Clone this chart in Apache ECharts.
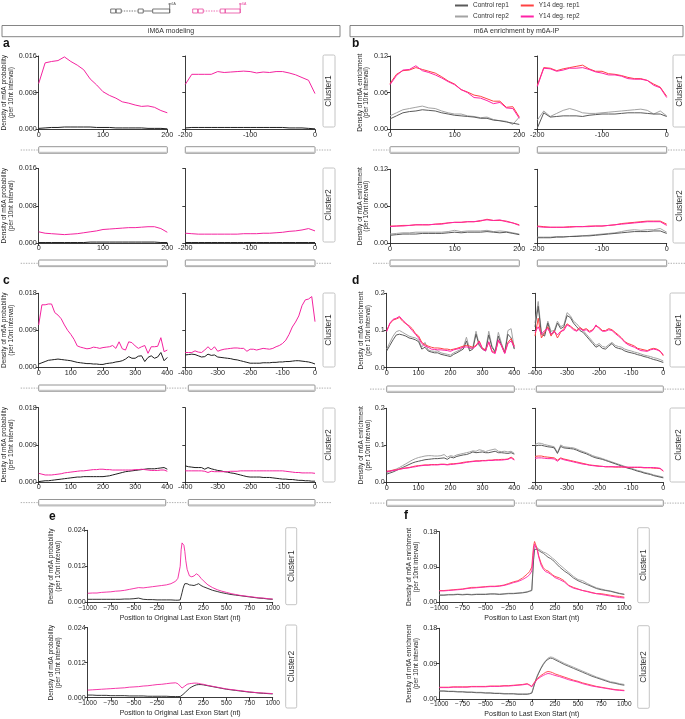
<!DOCTYPE html>
<html><head><meta charset="utf-8">
<script src="https://cdn.jsdelivr.net/npm/echarts@6/dist/echarts.min.js"></script>
<style>html,body{margin:0;padding:0;background:#fff}#main{width:685px;height:719px}</style>
</head><body><div id="main"></div>
<script>
// ---------- positions (bin starts, nt) ----------
const posL200=[0,10,20,30,40,50,60,70,80,90,100,110,120,130,140,150,160,170,180,190,200];
const posR200=[-200,-190,-180,-170,-160,-150,-140,-130,-120,-110,-100,-90,-80,-70,-60,-50,-40,-30,-20,-10,0];
const posL400=[0,10,20,30,40,50,60,70,80,90,100,110,120,130,140,150,160,170,180,190,200,210,220,230,240,250,260,270,280,290,300,310,320,330,340,350,360,370,380,390,400];
const posR400=[-400,-390,-380,-370,-360,-350,-340,-330,-320,-310,-300,-290,-280,-270,-260,-250,-240,-230,-220,-210,-200,-190,-180,-170,-160,-150,-140,-130,-120,-110,-100,-90,-80,-70,-60,-50,-40,-30,-20,-10,0];
const posE=[-1000,-950,-900,-850,-800,-750,-700,-650,-600,-550,-500,-450,-400,-350,-300,-250,-200,-150,-100,-50,-25,0,10,20,30,40,50,60,75,100,125,150,175,200,225,250,300,350,400,450,500,550,600,650,700,750,800,850,900,950,1000];

// ---------- panel a (iM6A, 200 nt) ----------
const a1L_y14=[0.0100,0.0145,0.0148,0.0150,0.0158,0.0148,0.0140,0.0130,0.0110,0.0097,0.0082,0.0074,0.0068,0.0060,0.0057,0.0053,0.0050,0.0051,0.0048,0.0041,0.0036];
const a1L_ctrl=[0.0002,0.0003,0.0004,0.0004,0.0005,0.0005,0.0005,0.0005,0.0005,0.0004,0.0004,0.0004,0.0003,0.0003,0.0003,0.0003,0.0003,0.0002,0.0002,0.0002,0.0001];
const a1R_y14=[0.0098,0.0120,0.0120,0.0120,0.0120,0.0126,0.0124,0.0125,0.0126,0.0127,0.0126,0.0123,0.0125,0.0124,0.0126,0.0126,0.0123,0.0119,0.0113,0.0107,0.0078];
const a1R_ctrl=[0.0003,0.0004,0.0004,0.0004,0.0004,0.0004,0.0004,0.0004,0.0004,0.0004,0.0004,0.0004,0.0004,0.0004,0.0004,0.0004,0.0003,0.0003,0.0003,0.0002,0.0001];
const a2L_y14=[0.0024,0.0021,0.0020,0.0019,0.0018,0.0019,0.0020,0.0022,0.0024,0.0026,0.0029,0.0030,0.0031,0.0032,0.0033,0.0033,0.0034,0.0035,0.0035,0.0031,0.0023];
const a2L_ctrl=[0.0001,0.0001,0.0001,0.0001,0.0001,0.0001,0.0001,0.0001,0.0002,0.0002,0.0002,0.0002,0.0002,0.0002,0.0002,0.0002,0.0002,0.0002,0.0002,0.0001,0.0001];
const a2R_y14=[0.0021,0.0020,0.0019,0.0019,0.0019,0.0019,0.0019,0.0019,0.0019,0.0020,0.0020,0.0020,0.0021,0.0021,0.0022,0.0023,0.0025,0.0026,0.0028,0.0031,0.0026];
const a2R_ctrl=[0.0001,0.0001,0.0001,0.0001,0.0001,0.0001,0.0001,0.0001,0.0001,0.0001,0.0001,0.0001,0.0001,0.0001,0.0001,0.0001,0.0001,0.0001,0.0001,0.0001,0.0001];

// ---------- panel b (m6A-IP, 200 nt) ----------
const b1L_y1=[0.075,0.090,0.096,0.097,0.101,0.098,0.095,0.092,0.086,0.079,0.074,0.065,0.061,0.056,0.054,0.050,0.046,0.046,0.036,0.037,0.020];
const b1L_y2=[0.073,0.088,0.097,0.098,0.104,0.096,0.093,0.089,0.084,0.078,0.073,0.065,0.060,0.052,0.051,0.047,0.042,0.044,0.035,0.034,0.018];
const b1L_c1=[0.017,0.022,0.027,0.029,0.030,0.032,0.031,0.030,0.027,0.025,0.023,0.022,0.021,0.020,0.018,0.018,0.015,0.014,0.012,0.010,0.008];
const b1L_c2=[0.022,0.027,0.032,0.034,0.036,0.038,0.035,0.034,0.030,0.027,0.025,0.025,0.022,0.021,0.019,0.020,0.016,0.014,0.013,0.008,0.020];
const b1R_y1=[0.072,0.101,0.100,0.096,0.099,0.101,0.103,0.105,0.099,0.095,0.095,0.091,0.090,0.088,0.085,0.083,0.083,0.080,0.074,0.069,0.054];
const b1R_y2=[0.070,0.100,0.099,0.095,0.097,0.100,0.100,0.101,0.098,0.094,0.092,0.089,0.089,0.087,0.083,0.082,0.082,0.080,0.072,0.068,0.052];
const b1R_c1=[0.002,0.027,0.020,0.021,0.022,0.022,0.022,0.021,0.023,0.024,0.025,0.025,0.025,0.026,0.027,0.027,0.027,0.026,0.025,0.025,0.021];
const b1R_c2=[0.015,0.030,0.021,0.026,0.031,0.034,0.031,0.027,0.026,0.026,0.027,0.028,0.029,0.030,0.031,0.032,0.033,0.031,0.025,0.030,0.022];
const b2L_y1=[0.028,0.028,0.029,0.029,0.030,0.030,0.030,0.031,0.032,0.033,0.034,0.034,0.035,0.035,0.036,0.039,0.037,0.037,0.036,0.033,0.030];
const b2L_y2=[0.027,0.028,0.028,0.029,0.030,0.030,0.030,0.031,0.031,0.033,0.034,0.034,0.035,0.035,0.037,0.038,0.037,0.038,0.035,0.033,0.029];
const b2L_c1=[0.013,0.014,0.015,0.015,0.015,0.016,0.016,0.016,0.016,0.017,0.018,0.017,0.018,0.018,0.018,0.019,0.018,0.017,0.018,0.016,0.014];
const b2L_c2=[0.015,0.016,0.017,0.017,0.018,0.018,0.018,0.018,0.018,0.019,0.021,0.019,0.020,0.020,0.020,0.021,0.019,0.020,0.019,0.017,0.015];
const b2R_y1=[0.028,0.027,0.026,0.026,0.026,0.027,0.027,0.027,0.028,0.028,0.028,0.029,0.030,0.032,0.033,0.034,0.035,0.036,0.036,0.036,0.031];
const b2R_y2=[0.027,0.026,0.026,0.026,0.026,0.026,0.027,0.027,0.027,0.028,0.028,0.029,0.030,0.031,0.032,0.033,0.034,0.035,0.035,0.035,0.029];
const b2R_c1=[0.009,0.009,0.009,0.010,0.010,0.011,0.011,0.012,0.012,0.013,0.014,0.015,0.016,0.017,0.018,0.019,0.019,0.019,0.020,0.020,0.016];
const b2R_c2=[0.010,0.010,0.010,0.011,0.011,0.011,0.012,0.012,0.013,0.014,0.015,0.016,0.017,0.019,0.021,0.022,0.021,0.022,0.022,0.024,0.018];

// ---------- panel c (iM6A, 400 nt) ----------
const c1L_y14=[0.0103,0.0152,0.0152,0.0154,0.0154,0.0133,0.0127,0.0118,0.0103,0.0090,0.0080,0.0068,0.0052,0.0049,0.0047,0.0045,0.0046,0.0049,0.0048,0.0046,0.0048,0.0049,0.0050,0.0053,0.0046,0.0062,0.0045,0.0042,0.0062,0.0060,0.0052,0.0046,0.0050,0.0053,0.0034,0.0050,0.0050,0.0051,0.0072,0.0038,0.0042];
const c1L_ctrl=[0.0008,0.0011,0.0014,0.0017,0.0018,0.0019,0.0020,0.0019,0.0018,0.0017,0.0016,0.0014,0.0012,0.0011,0.0010,0.0009,0.0009,0.0008,0.0008,0.0007,0.0007,0.0009,0.0010,0.0011,0.0013,0.0014,0.0016,0.0020,0.0026,0.0022,0.0022,0.0027,0.0028,0.0014,0.0024,0.0028,0.0022,0.0025,0.0036,0.0016,0.0024];
const c1R_y14=[0.0036,0.0036,0.0036,0.0040,0.0037,0.0036,0.0042,0.0050,0.0042,0.0050,0.0039,0.0042,0.0044,0.0045,0.0046,0.0047,0.0047,0.0046,0.0046,0.0039,0.0044,0.0044,0.0042,0.0044,0.0046,0.0045,0.0044,0.0046,0.0050,0.0053,0.0058,0.0066,0.0080,0.0098,0.0110,0.0125,0.0150,0.0164,0.0166,0.0172,0.0111];
const c1R_ctrl=[0.0030,0.0031,0.0032,0.0031,0.0028,0.0025,0.0026,0.0032,0.0029,0.0030,0.0025,0.0024,0.0023,0.0022,0.0021,0.0019,0.0018,0.0016,0.0014,0.0012,0.0010,0.0010,0.0010,0.0010,0.0011,0.0011,0.0011,0.0012,0.0012,0.0013,0.0013,0.0014,0.0014,0.0015,0.0016,0.0016,0.0015,0.0014,0.0013,0.0011,0.0008];
const c2L_y14=[0.0021,0.0019,0.0017,0.0017,0.0017,0.0018,0.0019,0.0020,0.0022,0.0023,0.0024,0.0025,0.0026,0.0027,0.0027,0.0028,0.0029,0.0030,0.0030,0.0031,0.0031,0.0030,0.0030,0.0029,0.0029,0.0029,0.0029,0.0029,0.0029,0.0029,0.0030,0.0030,0.0031,0.0030,0.0029,0.0028,0.0028,0.0028,0.0029,0.0029,0.0026];
const c2L_ctrl=[0.0001,0.0002,0.0003,0.0003,0.0004,0.0005,0.0006,0.0007,0.0008,0.0009,0.0010,0.0011,0.0012,0.0012,0.0013,0.0013,0.0013,0.0013,0.0013,0.0013,0.0013,0.0014,0.0015,0.0017,0.0019,0.0021,0.0023,0.0025,0.0026,0.0027,0.0028,0.0029,0.0030,0.0031,0.0032,0.0032,0.0032,0.0033,0.0034,0.0035,0.0031];
const c2R_y14=[0.0027,0.0027,0.0027,0.0027,0.0027,0.0027,0.0026,0.0023,0.0026,0.0025,0.0025,0.0025,0.0025,0.0025,0.0026,0.0026,0.0026,0.0027,0.0027,0.0027,0.0027,0.0027,0.0027,0.0027,0.0027,0.0027,0.0027,0.0027,0.0027,0.0027,0.0027,0.0026,0.0025,0.0024,0.0023,0.0023,0.0022,0.0022,0.0022,0.0022,0.0021];
const c2R_ctrl=[0.0039,0.0037,0.0036,0.0035,0.0035,0.0035,0.0031,0.0035,0.0032,0.0030,0.0028,0.0027,0.0025,0.0024,0.0022,0.0021,0.0019,0.0017,0.0015,0.0013,0.0012,0.0012,0.0012,0.0012,0.0011,0.0011,0.0011,0.0010,0.0009,0.0008,0.0007,0.0007,0.0006,0.0006,0.0005,0.0004,0.0004,0.0003,0.0003,0.0002,0.0002];

// ---------- panel d (m6A-IP, 400 nt) ----------
const d1L_y1=[0.100,0.118,0.128,0.131,0.135,0.125,0.118,0.113,0.105,0.092,0.085,0.068,0.062,0.058,0.055,0.053,0.053,0.052,0.050,0.050,0.048,0.050,0.052,0.055,0.058,0.060,0.058,0.055,0.060,0.072,0.052,0.048,0.068,0.045,0.040,0.072,0.060,0.040,0.068,0.078,0.058];
const d1L_y2=[0.097,0.120,0.130,0.133,0.138,0.128,0.120,0.110,0.100,0.090,0.080,0.065,0.058,0.055,0.050,0.049,0.048,0.048,0.047,0.046,0.044,0.048,0.050,0.052,0.055,0.056,0.054,0.052,0.058,0.070,0.050,0.045,0.070,0.042,0.038,0.075,0.058,0.038,0.065,0.072,0.055];
const d1L_c1=[0.045,0.060,0.075,0.088,0.090,0.088,0.085,0.080,0.078,0.075,0.070,0.050,0.055,0.045,0.042,0.040,0.040,0.036,0.034,0.032,0.030,0.036,0.040,0.045,0.050,0.072,0.045,0.050,0.090,0.060,0.050,0.045,0.088,0.055,0.042,0.085,0.060,0.040,0.090,0.080,0.050];
const d1L_c2=[0.050,0.068,0.085,0.097,0.100,0.095,0.090,0.085,0.082,0.080,0.075,0.055,0.068,0.048,0.045,0.044,0.045,0.040,0.038,0.036,0.034,0.040,0.044,0.048,0.055,0.082,0.050,0.055,0.098,0.062,0.052,0.048,0.098,0.058,0.044,0.095,0.065,0.042,0.100,0.105,0.052];
const d1R_c1=[0.110,0.165,0.090,0.085,0.120,0.090,0.095,0.120,0.105,0.110,0.140,0.135,0.120,0.110,0.100,0.095,0.085,0.075,0.065,0.055,0.060,0.052,0.050,0.058,0.065,0.055,0.052,0.050,0.045,0.042,0.040,0.038,0.035,0.033,0.030,0.028,0.025,0.022,0.020,0.017,0.014];
const d1R_c2=[0.120,0.178,0.095,0.090,0.125,0.098,0.100,0.125,0.110,0.115,0.148,0.140,0.125,0.118,0.108,0.100,0.090,0.080,0.070,0.060,0.065,0.057,0.055,0.062,0.068,0.060,0.057,0.055,0.050,0.047,0.045,0.042,0.040,0.037,0.034,0.032,0.030,0.027,0.025,0.022,0.018];
const d1R_y1=[0.085,0.133,0.080,0.095,0.110,0.085,0.100,0.080,0.095,0.105,0.118,0.112,0.105,0.100,0.108,0.102,0.105,0.098,0.102,0.112,0.108,0.100,0.100,0.105,0.102,0.095,0.088,0.080,0.070,0.065,0.062,0.058,0.052,0.050,0.048,0.046,0.050,0.052,0.050,0.045,0.032];
const d1R_y2=[0.095,0.110,0.090,0.100,0.105,0.090,0.098,0.088,0.098,0.100,0.115,0.110,0.102,0.098,0.105,0.100,0.102,0.095,0.100,0.115,0.105,0.098,0.098,0.102,0.100,0.092,0.085,0.078,0.068,0.062,0.058,0.055,0.050,0.046,0.045,0.044,0.048,0.050,0.048,0.044,0.035];
const d2L_c1=[0.022,0.025,0.028,0.032,0.036,0.040,0.044,0.048,0.052,0.055,0.057,0.059,0.061,0.062,0.063,0.064,0.064,0.065,0.066,0.062,0.068,0.066,0.070,0.072,0.074,0.075,0.078,0.082,0.080,0.081,0.082,0.080,0.080,0.082,0.084,0.080,0.080,0.079,0.078,0.080,0.076];
const d2L_c2=[0.026,0.029,0.032,0.036,0.040,0.045,0.050,0.055,0.060,0.064,0.067,0.069,0.071,0.072,0.072,0.071,0.071,0.072,0.075,0.068,0.072,0.070,0.074,0.076,0.078,0.080,0.082,0.085,0.084,0.088,0.086,0.083,0.086,0.088,0.090,0.084,0.083,0.084,0.082,0.084,0.078];
const d2L_y1=[0.030,0.031,0.033,0.034,0.036,0.037,0.039,0.040,0.042,0.044,0.045,0.046,0.047,0.047,0.048,0.048,0.048,0.049,0.049,0.048,0.050,0.050,0.051,0.052,0.054,0.055,0.056,0.057,0.058,0.058,0.059,0.059,0.060,0.060,0.061,0.061,0.062,0.062,0.063,0.068,0.062];
const d2L_y2=[0.029,0.030,0.032,0.033,0.035,0.037,0.038,0.039,0.041,0.042,0.044,0.045,0.046,0.046,0.047,0.047,0.047,0.048,0.048,0.047,0.048,0.049,0.050,0.051,0.052,0.054,0.055,0.056,0.057,0.057,0.058,0.058,0.059,0.059,0.060,0.060,0.060,0.061,0.062,0.066,0.060];
const d2R_c1=[0.098,0.100,0.100,0.098,0.096,0.095,0.093,0.078,0.097,0.093,0.092,0.091,0.090,0.087,0.083,0.080,0.077,0.073,0.069,0.066,0.064,0.062,0.059,0.056,0.053,0.050,0.047,0.044,0.041,0.038,0.036,0.033,0.030,0.028,0.025,0.023,0.021,0.018,0.016,0.014,0.012];
const d2R_c2=[0.102,0.106,0.105,0.102,0.100,0.098,0.096,0.080,0.101,0.096,0.095,0.094,0.093,0.090,0.086,0.083,0.080,0.076,0.072,0.069,0.067,0.064,0.061,0.058,0.055,0.052,0.049,0.046,0.043,0.040,0.038,0.035,0.032,0.030,0.027,0.025,0.023,0.020,0.018,0.016,0.014];
const d2R_y1=[0.070,0.071,0.071,0.069,0.068,0.067,0.066,0.060,0.066,0.063,0.061,0.059,0.057,0.055,0.053,0.051,0.049,0.047,0.046,0.045,0.044,0.043,0.042,0.042,0.042,0.041,0.041,0.041,0.041,0.040,0.040,0.040,0.040,0.040,0.039,0.039,0.039,0.038,0.038,0.037,0.030];
const d2R_y2=[0.065,0.066,0.066,0.065,0.064,0.064,0.063,0.057,0.064,0.061,0.059,0.057,0.055,0.053,0.051,0.049,0.048,0.046,0.045,0.044,0.043,0.043,0.042,0.042,0.042,0.042,0.042,0.042,0.041,0.041,0.041,0.041,0.041,0.041,0.040,0.040,0.040,0.040,0.039,0.038,0.031];

// ---------- panel e (iM6A, last exon start +-1000) ----------
const e1_y14=[0.0030,0.0031,0.0031,0.0033,0.0034,0.0035,0.0037,0.0038,0.0040,0.0043,0.0046,0.0049,0.0048,0.0050,0.0052,0.0054,0.0056,0.0058,0.0062,0.0070,0.0080,0.0120,0.0175,0.0198,0.0200,0.0190,0.0170,0.0140,0.0110,0.0088,0.0085,0.0088,0.0095,0.0090,0.0080,0.0072,0.0058,0.0049,0.0042,0.0037,0.0033,0.0029,0.0026,0.0023,0.0021,0.0019,0.0017,0.0015,0.0014,0.0012,0.0011];
const e1_ctrl=[0.0010,0.0010,0.0010,0.0010,0.0010,0.0010,0.0010,0.0010,0.0011,0.0011,0.0012,0.0014,0.0010,0.0009,0.0009,0.0008,0.0008,0.0008,0.0008,0.0007,0.0007,0.0008,0.0020,0.0032,0.0045,0.0055,0.0062,0.0064,0.0062,0.0058,0.0057,0.0056,0.0059,0.0062,0.0056,0.0052,0.0046,0.0040,0.0036,0.0032,0.0029,0.0026,0.0024,0.0022,0.0020,0.0018,0.0016,0.0014,0.0013,0.0011,0.0010];
const e2_y14=[0.0026,0.0027,0.0028,0.0029,0.0030,0.0031,0.0032,0.0033,0.0034,0.0036,0.0037,0.0038,0.0040,0.0041,0.0043,0.0045,0.0046,0.0048,0.0050,0.0051,0.0048,0.0040,0.0035,0.0033,0.0033,0.0036,0.0040,0.0043,0.0046,0.0048,0.0049,0.0050,0.0050,0.0049,0.0047,0.0046,0.0042,0.0039,0.0036,0.0033,0.0030,0.0028,0.0026,0.0024,0.0022,0.0020,0.0018,0.0017,0.0016,0.0015,0.0014];
const e2_ctrl=[0.0009,0.0009,0.0008,0.0008,0.0008,0.0007,0.0007,0.0007,0.0007,0.0006,0.0006,0.0006,0.0006,0.0005,0.0005,0.0005,0.0005,0.0005,0.0004,0.0004,0.0004,0.0004,0.0006,0.0008,0.0011,0.0014,0.0017,0.0020,0.0025,0.0032,0.0037,0.0041,0.0044,0.0045,0.0045,0.0044,0.0041,0.0038,0.0035,0.0032,0.0029,0.0027,0.0025,0.0023,0.0021,0.0019,0.0018,0.0016,0.0015,0.0014,0.0013];

// ---------- panel f (m6A-IP, last exon start +-1000) ----------
const f1_y1=[0.030,0.030,0.031,0.032,0.033,0.034,0.036,0.038,0.038,0.039,0.040,0.041,0.041,0.042,0.044,0.048,0.052,0.055,0.062,0.072,0.078,0.090,0.120,0.145,0.155,0.160,0.150,0.135,0.118,0.100,0.088,0.082,0.080,0.075,0.070,0.066,0.062,0.055,0.043,0.038,0.034,0.030,0.028,0.025,0.022,0.022,0.020,0.018,0.016,0.015,0.013];
const f1_y2=[0.029,0.029,0.030,0.031,0.032,0.033,0.035,0.036,0.037,0.038,0.039,0.040,0.040,0.041,0.043,0.046,0.050,0.053,0.058,0.065,0.070,0.080,0.105,0.135,0.148,0.152,0.145,0.132,0.115,0.095,0.084,0.078,0.076,0.072,0.068,0.063,0.058,0.052,0.042,0.036,0.033,0.030,0.027,0.024,0.022,0.020,0.018,0.016,0.014,0.012,0.011];
const f1_c1=[0.018,0.018,0.019,0.019,0.020,0.019,0.020,0.019,0.020,0.020,0.020,0.021,0.021,0.020,0.021,0.022,0.022,0.023,0.024,0.026,0.028,0.030,0.070,0.110,0.135,0.140,0.138,0.135,0.132,0.128,0.125,0.120,0.115,0.112,0.108,0.102,0.090,0.080,0.072,0.062,0.055,0.050,0.045,0.040,0.035,0.032,0.030,0.028,0.025,0.022,0.020];
const f1_c2=[0.019,0.019,0.020,0.020,0.021,0.020,0.021,0.020,0.021,0.021,0.021,0.022,0.022,0.021,0.022,0.023,0.023,0.024,0.025,0.027,0.029,0.032,0.075,0.115,0.138,0.144,0.142,0.138,0.135,0.132,0.128,0.126,0.122,0.118,0.112,0.108,0.096,0.086,0.076,0.066,0.058,0.055,0.048,0.042,0.037,0.034,0.031,0.029,0.026,0.023,0.021];
const f2_y1=[0.030,0.030,0.030,0.031,0.031,0.031,0.031,0.032,0.032,0.032,0.032,0.033,0.033,0.033,0.034,0.034,0.035,0.036,0.037,0.039,0.036,0.032,0.036,0.040,0.043,0.046,0.049,0.052,0.056,0.060,0.064,0.068,0.070,0.069,0.067,0.064,0.060,0.056,0.052,0.048,0.045,0.041,0.038,0.035,0.032,0.030,0.028,0.026,0.024,0.023,0.022];
const f2_y2=[0.029,0.029,0.029,0.030,0.030,0.030,0.030,0.031,0.031,0.031,0.031,0.032,0.032,0.032,0.033,0.033,0.034,0.035,0.036,0.038,0.035,0.031,0.034,0.038,0.041,0.044,0.047,0.050,0.053,0.057,0.060,0.063,0.065,0.064,0.062,0.060,0.057,0.053,0.049,0.046,0.043,0.039,0.036,0.033,0.031,0.029,0.027,0.025,0.023,0.022,0.021];
const f2_c1=[0.020,0.020,0.019,0.019,0.018,0.018,0.017,0.017,0.016,0.016,0.015,0.015,0.014,0.014,0.013,0.013,0.013,0.012,0.012,0.012,0.013,0.015,0.022,0.030,0.038,0.045,0.052,0.058,0.066,0.078,0.088,0.096,0.101,0.104,0.103,0.100,0.094,0.088,0.083,0.078,0.073,0.068,0.063,0.058,0.054,0.050,0.046,0.042,0.040,0.037,0.035];
const f2_c2=[0.021,0.021,0.020,0.020,0.019,0.019,0.018,0.018,0.017,0.017,0.016,0.016,0.015,0.015,0.014,0.014,0.014,0.013,0.013,0.013,0.014,0.016,0.024,0.032,0.040,0.047,0.054,0.060,0.068,0.080,0.090,0.098,0.104,0.107,0.106,0.103,0.097,0.091,0.086,0.081,0.076,0.071,0.066,0.061,0.056,0.052,0.048,0.044,0.042,0.039,0.037];

// ---------- text ----------
const NAME_P='Density of m6A probability\n(per 10nt interval)';
const NAME_E='Density of m6A enrichment\n(per 10nt interval)';
const XNAME_E='Position to Original Last Exon Start (nt)';
const XNAME_F='Position to Last Exon Start (nt)';
const LEG1=['Control rep1','Y14 deg. rep1'];
const LEG2=['Control rep2','Y14 deg. rep2'];

// ---------- styles ----------
const FONT='"Liberation Sans", Arial, sans-serif';
const CTRL='#1e1e1e', Y14='#f4239f';
const C1='#5a5a5a', C2='#a3a3a3', Y1='#ff4242', Y2='#ff22a6';
const AX='#262626';

const grids=[],xAxes=[],yAxes=[],series=[];
const fmtMinus=v=>v<0?'\u2212'+Math.abs(v):String(v);
function addGrid(g){
  const i=grids.length;
  grids.push({left:g.l,top:g.t,width:g.w,height:g.h,containLabel:false,outerBoundsMode:'none'});
  xAxes.push({type:'value',gridIndex:i,min:g.x[0],max:g.x[1],interval:g.x[2],
    axisLine:{show:true,onZero:false,lineStyle:{color:AX,width:0.9}},
    axisTick:{show:true,length:3,lineStyle:{color:AX,width:0.9}},
    splitLine:{show:false},minorTick:{show:false},
    axisLabel:{show:true,fontSize:g.xfs||7.2,color:AX,margin:2,fontFamily:FONT,formatter:g.um?fmtMinus:(v=>String(v))},
    name:g.xname||'',nameLocation:'middle',nameGap:g.xgap||13,nameMoveOverlap:false,
    nameTextStyle:{fontSize:7,color:AX,fontFamily:FONT}});
  yAxes.push({type:'value',gridIndex:i,min:0,max:g.y[0],interval:g.y[1],
    axisLine:{show:true,onZero:false,lineStyle:{color:AX,width:0.9}},
    axisTick:{show:true,length:3,lineStyle:{color:AX,width:0.9}},
    splitLine:{show:false},
    axisLabel:{show:!!g.ylab,fontSize:7.2,color:AX,margin:2,fontFamily:FONT,formatter:v=>v.toFixed(g.dec)},
    name:g.ylab?g.yname:'',nameLocation:'middle',nameGap:g.ygap||20,nameMoveOverlap:false,
    nameTextStyle:{fontSize:6.5,lineHeight:6.8,color:AX,fontFamily:FONT}});
  return i;
}
function addLine(gi,name,color,xs,ys,w){
  series.push({type:'line',name:name,xAxisIndex:gi,yAxisIndex:gi,
    data:xs.map((x,k)=>[x,ys[k]]),showSymbol:false,symbol:'none',
    lineStyle:{color:color,width:w||1},itemStyle:{color:color},
    silent:true,animation:false,clip:false});
}
function two(gi,xs,ctrl,y14,w){addLine(gi,'Control',CTRL,xs,ctrl,w);addLine(gi,'Y14 deg.',Y14,xs,y14,w);}
function four(gi,xs,c1,c2,y1,y2,w){
  addLine(gi,'Control rep2',C2,xs,c2,w);addLine(gi,'Control rep1',C1,xs,c1,w);
  addLine(gi,'Y14 deg. rep1',Y1,xs,y1,w);addLine(gi,'Y14 deg. rep2',Y2,xs,y2,w);
}

// panel a
let g;
g=addGrid({l:38.7,t:56,w:128.6,h:73.3,x:[0,200,100],y:[0.016,0.008],dec:3,ylab:1,yname:NAME_P,ygap:24});
two(g,posL200,a1L_ctrl,a1L_y14);
g=addGrid({l:185.3,t:56,w:129.7,h:73.3,x:[-200,0,100],y:[0.016,0.008],dec:3});
two(g,posR200,a1R_ctrl,a1R_y14);
g=addGrid({l:38.7,t:168.5,w:128.6,h:74.5,x:[0,200,100],y:[0.016,0.008],dec:3,ylab:1,yname:NAME_P,ygap:24});
two(g,posL200,a2L_ctrl,a2L_y14);
g=addGrid({l:185.3,t:168.5,w:129.7,h:74.5,x:[-200,0,100],y:[0.016,0.008],dec:3});
two(g,posR200,a2R_ctrl,a2R_y14);
// panel b
g=addGrid({l:390,t:56,w:129.3,h:73.3,x:[0,200,100],y:[0.12,0.06],dec:2,ylab:1,yname:NAME_E,ygap:20});
four(g,posL200,b1L_c1,b1L_c2,b1L_y1,b1L_y2);
g=addGrid({l:537.3,t:56,w:129.4,h:73.3,x:[-200,0,100],y:[0.12,0.06],dec:2});
four(g,posR200,b1R_c1,b1R_c2,b1R_y1,b1R_y2);
g=addGrid({l:390,t:169.3,w:129.3,h:74,x:[0,200,100],y:[0.12,0.06],dec:2,ylab:1,yname:NAME_E,ygap:20});
four(g,posL200,b2L_c1,b2L_c2,b2L_y1,b2L_y2);
g=addGrid({l:537.3,t:169.3,w:129.4,h:74,x:[-200,0,100],y:[0.12,0.06],dec:2});
four(g,posR200,b2R_c1,b2R_c2,b2R_y1,b2R_y2);
// panel c
g=addGrid({l:38.7,t:293.3,w:128.6,h:74,x:[0,400,100],y:[0.018,0.009],dec:3,ylab:1,yname:NAME_P,ygap:24});
two(g,posL400,c1L_ctrl,c1L_y14);
g=addGrid({l:185.3,t:293.3,w:129.7,h:74,x:[-400,0,100],y:[0.018,0.009],dec:3});
two(g,posR400,c1R_ctrl,c1R_y14);
g=addGrid({l:38.7,t:407.7,w:128.6,h:74.3,x:[0,400,100],y:[0.018,0.009],dec:3,ylab:1,yname:NAME_P,ygap:24});
two(g,posL400,c2L_ctrl,c2L_y14);
g=addGrid({l:185.3,t:407.7,w:129.7,h:74.3,x:[-400,0,100],y:[0.018,0.009],dec:3});
two(g,posR400,c2R_ctrl,c2R_y14);
// panel d
g=addGrid({l:386.7,t:293.3,w:127.6,h:74.4,x:[0,400,100],y:[0.2,0.1],dec:1,ylab:1,yname:NAME_E,ygap:15});
four(g,posL400,d1L_c1,d1L_c2,d1L_y1,d1L_y2);
g=addGrid({l:535,t:293.3,w:128.3,h:74.4,x:[-400,0,100],y:[0.2,0.1],dec:1});
four(g,posR400,d1R_c1,d1R_c2,d1R_y1,d1R_y2);
g=addGrid({l:386.7,t:408.3,w:127.6,h:74,x:[0,400,100],y:[0.2,0.1],dec:1,ylab:1,yname:NAME_E,ygap:15});
four(g,posL400,d2L_c1,d2L_c2,d2L_y1,d2L_y2);
g=addGrid({l:535,t:408.3,w:128.3,h:74,x:[-400,0,100],y:[0.2,0.1],dec:1});
four(g,posR400,d2R_c1,d2R_c2,d2R_y1,d2R_y2);
// panel e
g=addGrid({l:87.7,t:530.3,w:185,h:72,x:[-1000,1000,250],y:[0.024,0.012],dec:3,ylab:1,yname:NAME_P,ygap:26,um:1,xfs:6.5,xname:XNAME_E,xgap:12});
two(g,posE,e1_ctrl,e1_y14,0.9);
g=addGrid({l:87.7,t:627.7,w:185,h:70,x:[-1000,1000,250],y:[0.024,0.012],dec:3,ylab:1,yname:NAME_P,ygap:26,um:1,xfs:6.5,xname:XNAME_E,xgap:12});
two(g,posE,e2_ctrl,e2_y14,0.9);
// panel f
g=addGrid({l:439.3,t:531.7,w:185,h:70.6,x:[-1000,1000,250],y:[0.18,0.09],dec:2,ylab:1,yname:NAME_E,ygap:20,um:1,xfs:6.5,xname:XNAME_F,xgap:12});
four(g,posE,f1_c1,f1_c2,f1_y1,f1_y2,0.9);
g=addGrid({l:439.3,t:628.3,w:185,h:70.7,x:[-1000,1000,250],y:[0.18,0.09],dec:2,ylab:1,yname:NAME_E,ygap:20,um:1,xfs:6.5,xname:XNAME_F,xgap:12});
four(g,posE,f2_c1,f2_c2,f2_y1,f2_y2,0.9);

// ---------- decorations ----------
const gfx=[];
function R(x,y,w,h,st,r){gfx.push({type:'rect',silent:true,shape:{x:x,y:y,width:w,height:h,r:r||0},style:Object.assign({fill:'none'},st)});}
function L(x1,y1,x2,y2,st){gfx.push({type:'line',silent:true,shape:{x1:x1,y1:y1,x2:x2,y2:y2},style:Object.assign({fill:'none'},st)});}
function T(x,y,s,o){o=o||{};gfx.push({type:'text',silent:true,x:x,y:y,rotation:o.rot||0,
  style:{text:s,x:0,y:0,fill:o.fill||'#333',font:(o.bold?'bold ':'')+(o.fs||7)+'px '+FONT,
  align:o.align||'center',textAlign:o.align||'center',verticalAlign:'middle',textVerticalAlign:'middle'}});}
function geneBox(x1,x2,y,h){R(x1,y,x2-x1,h,{fill:'#fff',stroke:'#7a7a7a',lineWidth:0.8},0.8);L(x1+0.5,y+h-0.8,x2-0.5,y+h-0.8,{stroke:'#c4c4c4',lineWidth:1.4});}
function dash(x1,x2,y){L(x1,y,x2,y,{stroke:'#9a9a9a',lineWidth:0.8,lineDash:[1.4,1.2]});}
function cluster(x,y,w,h,s){R(x,y,w,h,{fill:'#fff',stroke:'#b5b5b5',lineWidth:0.8},1.5);T(x+w/2,y+h/2,s,{rot:Math.PI/2,fs:8.5});}

// header boxes
R(2,25.5,338,11.2,{stroke:'#666',lineWidth:0.8});T(171,31.1,'iM6A modeling',{fs:7});
R(350,25.5,333,11.2,{stroke:'#666',lineWidth:0.8});T(516.5,31.1,'m6A enrichment by m6A-IP',{fs:7});
// gene schematic icons
function schematic(x0,col,pink){
  const st={stroke:col,lineWidth:0.8};
  R(x0,9,5,4,st);R(x0+5.5,9,5,4,st);
  dash(x0+10.5,x0+27,11); gfx[gfx.length-1].style.stroke=col;
  R(x0+27.5,9,5,4,st);
  if(pink){R(x0+32.5,9,15,4,st);L(x0+47.5,3.5,x0+47.5,13,st);T(x0+50,4,'m6A',{fs:3.5,fill:col});}
  else{L(x0+32.5,11,x0+42,11,st);R(x0+42,9,17,4,st);L(x0+59,3.5,x0+59,13,st);T(x0+61.5,4,'m6A',{fs:3.5,fill:col});}
}
schematic(110.7,'#555',false);
schematic(192.7,'#e8479e',true);
// panel letters
T(3,44,'a',{bold:1,fs:12,align:'left',fill:'#111'});
T(352,44,'b',{bold:1,fs:12,align:'left',fill:'#111'});
T(3,281,'c',{bold:1,fs:12,align:'left',fill:'#111'});
T(352,281,'d',{bold:1,fs:12,align:'left',fill:'#111'});
T(49,517,'e',{bold:1,fs:12,align:'left',fill:'#111'});
T(404,516,'f',{bold:1,fs:12,align:'left',fill:'#111'});
// cluster strips
cluster(323,55,12,72,'Cluster1');cluster(323,168,12,74,'Cluster2');
cluster(673,55,14,72,'Cluster1');cluster(673,169,14,74,'Cluster2');
cluster(323,293,12,74,'Cluster1');cluster(323,408,12,74,'Cluster2');
cluster(670,293,17,74,'Cluster1');cluster(670,408,17,74,'Cluster2');
cluster(285.7,527.7,11,77,'Cluster1');cluster(285.7,625,11,83,'Cluster2');
cluster(637.7,527.7,11.6,75,'Cluster1');cluster(637.7,625.7,11.6,82.6,'Cluster2');
// transcript bars under panels a-d
[146.7,260].forEach(y=>{
  geneBox(38.7,167.3,y,6.6);geneBox(185.3,315,y,6.6);dash(20.7,37.7,y+3.3);dash(316.5,332,y+3.3);
  geneBox(390,519.3,y,6.6);geneBox(537.3,666.7,y,6.6);dash(373,389,y+3.3);dash(668,685,y+3.3);
});
[385,499.5].forEach(y=>{
  geneBox(38.7,165.7,y,6.3);dash(166.7,187.3,y+3.1);geneBox(188.3,315,y,6.3);dash(20.7,37.7,y+3.1);dash(316.5,332,y+3.1);
});
[386,500].forEach(y=>{
  geneBox(386.7,514.3,y,6.3);dash(515.5,535.5,y+3.1);geneBox(536.3,663.3,y,6.3);dash(370,385.7,y+3.1);dash(664.5,685,y+3.1);
});

const legendBase={left:455,itemWidth:13,itemHeight:2,itemGap:12,icon:'rect',selectedMode:false,
  textStyle:{fontSize:6.5,color:'#333',fontFamily:FONT},padding:0};
const option={
  animation:false,
  backgroundColor:'#fff',
  textStyle:{fontFamily:FONT},
  legend:[Object.assign({},legendBase,{top:2,data:LEG1}),Object.assign({},legendBase,{top:13,data:LEG2})],
  grid:grids,xAxis:xAxes,yAxis:yAxes,series:series,graphic:gfx
};
const chart=echarts.init(document.getElementById('main'),null,{renderer:'canvas'});
chart.setOption(option);
</script></body></html>
